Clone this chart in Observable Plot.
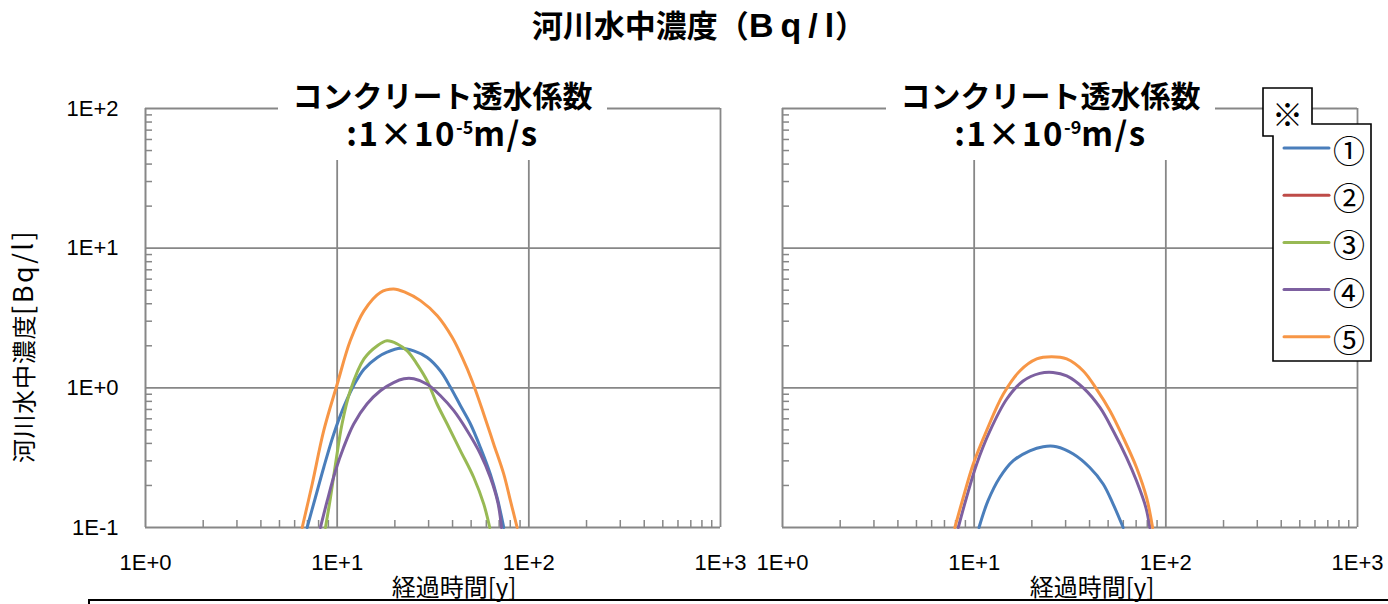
<!DOCTYPE html>
<html><head><meta charset="utf-8">
<script src="https://cdn.jsdelivr.net/npm/d3@7"></script>
<script src="https://cdn.jsdelivr.net/npm/@observablehq/plot@0.6"></script>
<style>
body{margin:0;background:#fff;}
#chart{position:relative;width:1388px;height:604px;overflow:hidden;background:#fff;font-family:"Noto Sans CJK JP","Noto Sans",sans-serif;color:#000;}
#chart svg.panel{position:absolute;left:0;top:0;}
.abs{position:absolute;white-space:nowrap;}
.title{left:10px;width:1378px;top:5px;text-align:center;font-size:31px;font-weight:bold;line-height:38px;}
.title .lat{font-family:"Liberation Sans",Arial,sans-serif;font-size:34px;letter-spacing:7px;}
.title .lat .last{letter-spacing:1px;}
.pbox{top:72px;height:88px;width:329px;background:#fff;}
.pline{width:329px;text-align:center;font-weight:bold;}
.pline1{top:77px;font-size:30px;line-height:34px;}
.pline2{top:116px;font-size:33px;line-height:32px;letter-spacing:1.5px;}
.pline2 sup{font-size:18px;vertical-align:0;position:relative;top:-12px;letter-spacing:0;}
.xlab{top:572px;font-size:24px;line-height:28px;transform:translateX(-50%);}
.ylab{left:22px;top:346px;font-size:24px;letter-spacing:0.7px;line-height:28px;transform:translate(-50%,-50%) rotate(-90deg);}
.ylab .lat{font-size:27px;letter-spacing:2.5px;}
.bottombox{left:88px;top:599px;width:1310px;height:20px;border-top:2px solid #000;border-left:2px solid #000;}
</style></head><body><div id="chart"></div>
<script>
// ---- chart data ----
const mainTitleJa = "河川水中濃度";
const mainTitleUnit = "Bq/l";
const panelTitleTop = "コンクリート透水係数";
const panelExponents = ["-5", "-9"];
const xAxisLabel = "経過時間[y]";
const yAxisLabelJa = "河川水中濃度";
const yAxisLabelUnit = "[Bq/l]";
const seriesNames = ["①", "②", "③", "④", "⑤"];
const seriesColors = ["#4A7EBB", "#BE4B48", "#98B954", "#7D60A0", "#F79646"];
const xTicks = [1, 10, 100, 1000];
const xTickLabels = ["1E+0", "1E+1", "1E+2", "1E+3"];
const yTicks = [0.1, 1, 10, 100];
const yTickLabels = ["1E-1", "1E+0", "1E+1", "1E+2"];

// Left panel: 1×10^-5 m/s
const left1T = [6.97, 7.70, 8.51, 9.60, 10.8, 12.2, 13.8, 16.2, 18.2, 21.4, 25.1, 29.5, 34.6, 39.0, 44.0, 49.6, 55.9, 63.0, 68.3, 74.0];
const left1C = [0.1, 0.164, 0.269, 0.467, 0.724, 1.04, 1.36, 1.65, 1.80, 1.92, 1.84, 1.65, 1.32, 1.01, 0.744, 0.551, 0.374, 0.241, 0.164, 0.1];
const left3T = [8.69, 9.23, 9.80, 10.6, 11.7, 13.8, 16.2, 18.2, 20.6, 23.2, 26.1, 29.5, 33.2, 37.5, 44.0, 51.6, 58.2, 62.5];
const left3C = [0.1, 0.164, 0.284, 0.551, 0.953, 1.61, 2.0, 2.17, 2.06, 1.84, 1.48, 1.12, 0.766, 0.551, 0.354, 0.228, 0.147, 0.1];
const left4T = [8.18, 8.87, 9.80, 10.8, 12.2, 14.3, 16.8, 19.7, 22.3, 25.1, 29.5, 34.6, 40.6, 47.7, 55.9, 63.0, 69.0, 72.0];
const left4C = [0.1, 0.155, 0.255, 0.374, 0.551, 0.766, 0.953, 1.09, 1.16, 1.16, 1.06, 0.877, 0.686, 0.493, 0.336, 0.228, 0.150, 0.1];
const left5T = [6.57, 7.41, 8.51, 10.0, 11.7, 13.8, 16.8, 19.7, 22.7, 27.2, 33.3, 39.8, 44.9, 50.6, 58.2, 65.6, 74.0, 80.2, 86.9];
const left5C = [0.1, 0.205, 0.493, 1.06, 2.17, 3.56, 4.82, 5.1, 4.82, 4.21, 3.28, 2.30, 1.65, 1.12, 0.648, 0.395, 0.241, 0.155, 0.1];

// Right panel: 1×10^-9 m/s
const right1T = [10.6, 11.8, 13.6, 16.0, 19.5, 22.9, 26.9, 32.9, 40.1, 47.1, 53.1, 59.9];
const right1C = [0.1, 0.155, 0.228, 0.301, 0.354, 0.379, 0.379, 0.336, 0.269, 0.205, 0.147, 0.1];
const right4T = [8.26, 9.12, 10.3, 12.1, 14.8, 18.0, 22.0, 25.8, 30.4, 37.1, 45.3, 53.1, 62.4, 70.3, 78.7, 82.5];
const right4C = [0.1, 0.164, 0.284, 0.493, 0.832, 1.12, 1.27, 1.29, 1.22, 1.0, 0.724, 0.493, 0.317, 0.216, 0.139, 0.1];
const right5T = [7.93, 8.77, 9.88, 11.6, 14.2, 17.3, 21.2, 25.3, 30.4, 37.1, 43.5, 51.1, 59.9, 70.3, 79.3, 85.3];
const right5C = [0.1, 0.164, 0.284, 0.493, 0.903, 1.32, 1.61, 1.67, 1.61, 1.32, 0.98, 0.686, 0.441, 0.269, 0.164, 0.1];

// ---- build rows ----
function rowsOf(name, T, C) { return T.map((t, i) => ({series: name, t, c: C[i]})); }
const leftRows = [
  ...rowsOf("①", left1T, left1C), ...rowsOf("③", left3T, left3C),
  ...rowsOf("④", left4T, left4C), ...rowsOf("⑤", left5T, left5C)
];
const rightRows = [
  ...rowsOf("①", right1T, right1C), ...rowsOf("④", right4T, right4C), ...rowsOf("⑤", right5T, right5C)
];

const minorX = xTicks.slice(0, -1).flatMap(d => [2,3,4,5,6,7,8,9].map(k => d * k));
const minorY = yTicks.slice(0, -1).flatMap(d => [2,3,4,5,6,7,8,9].map(k => d * k));

const GRID = "#878787";
const W = 1388, H = 604;
const chart = document.getElementById("chart");

function panel(rows, mLeft, mRight, showY) {
  const plotW = W - mLeft - mRight, plotH = H - 108 - 77;
  const marks = [
    Plot.ruleX(xTicks.slice(1), {stroke: GRID, strokeWidth: 1.8}),
    Plot.ruleY(yTicks.slice(1), {stroke: GRID, strokeWidth: 1.8}),
    Plot.ruleX(minorX, {stroke: GRID, strokeWidth: 1.5, insetTop: plotH - 7}),
    Plot.ruleY(minorY, {stroke: GRID, strokeWidth: 1.5, insetRight: plotW - 7}),
    Plot.ruleX([xTicks[0]], {stroke: GRID, strokeWidth: 2}),
    Plot.ruleY([yTicks[0]], {stroke: GRID, strokeWidth: 2}),
    Plot.line(rows, {x: "t", y: "c", z: "series", stroke: "series", strokeWidth: 3, curve: "catmull-rom", strokeLinejoin: "round"}),
    Plot.axisX(xTicks, {tickSize: 0, tickPadding: 27, fontSize: 22, tickFormat: d => xTickLabels[xTicks.indexOf(d)], label: null})
  ];
  if (showY) marks.push(Plot.axisY(yTicks, {tickSize: 0, tickPadding: 27, fontSize: 22, tickFormat: d => yTickLabels[yTicks.indexOf(d)], label: null}));
  const svg = Plot.plot({
    width: W, height: H,
    marginTop: 108, marginBottom: 77, marginLeft: mLeft, marginRight: mRight,
    style: {background: "transparent", overflow: "visible", fontFamily: "'Liberation Sans', Arial, sans-serif", color: "#000"},
    x: {type: "log", domain: [1, 1000]},
    y: {type: "log", domain: [0.1, 100], axis: showY ? undefined : null},
    color: {domain: seriesNames, range: seriesColors},
    marks
  });
  svg.classList.add("panel");
  chart.appendChild(svg);
}
panel(leftRows, 145, W - 720, true);
panel(rightRows, 782, W - 1357, false);

function addDiv(cls, html, style) {
  const d = document.createElement("div");
  d.className = "abs " + cls;
  d.innerHTML = html;
  Object.assign(d.style, style || {});
  chart.appendChild(d);
  return d;
}
addDiv("title", mainTitleJa + "（<span class='lat'>" + mainTitleUnit.slice(0, -1) +
  "<span class='last'>" + mainTitleUnit.slice(-1) + "</span></span>）");
[[278, 0], [886, 1]].forEach(([x, k]) => {
  addDiv("pbox", "", {left: x + "px"});
  addDiv("pline pline1", panelTitleTop, {left: x + "px"});
  addDiv("pline pline2", ":1×10<sup>" + panelExponents[k] + "</sup>m/s", {left: x + "px"});
});
addDiv("xlab", xAxisLabel, {left: "454px"});
addDiv("xlab", xAxisLabel, {left: "1092px"});
addDiv("ylab", yAxisLabelJa + "<span class='lat'>" + yAxisLabelUnit + "</span>");
addDiv("bottombox", "");

// legend
const lg = d3.select(chart).append("svg")
  .attr("width", W).attr("height", H)
  .style("position", "absolute").style("left", 0).style("top", 0);
lg.append("path")
  .attr("d", "M1263,88H1312V124H1371V361H1273V136H1263Z")
  .attr("fill", "#fff").attr("stroke", "#000").attr("stroke-width", 1.6);
lg.append("text").attr("x", 1287.5).attr("y", 112).attr("text-anchor", "middle")
  .attr("dominant-baseline", "central").attr("font-size", 31)
  .attr("font-family", "'Noto Sans CJK JP', sans-serif").text("※");
const items = lg.selectAll("g.item").data(seriesNames).join("g")
  .attr("transform", (d, i) => `translate(0,${148 + i * 47.2})`);
items.append("line").attr("x1", 1284).attr("x2", 1329).attr("y1", 0).attr("y2", 0)
  .attr("stroke", (d, i) => seriesColors[i]).attr("stroke-width", 3).attr("stroke-linecap", "round");
items.append("text").attr("x", 1349).attr("y", 1).attr("text-anchor", "middle")
  .attr("dominant-baseline", "central").attr("font-size", 32)
  .attr("font-family", "'Noto Sans CJK JP', sans-serif").text(d => d);
</script></body></html>
